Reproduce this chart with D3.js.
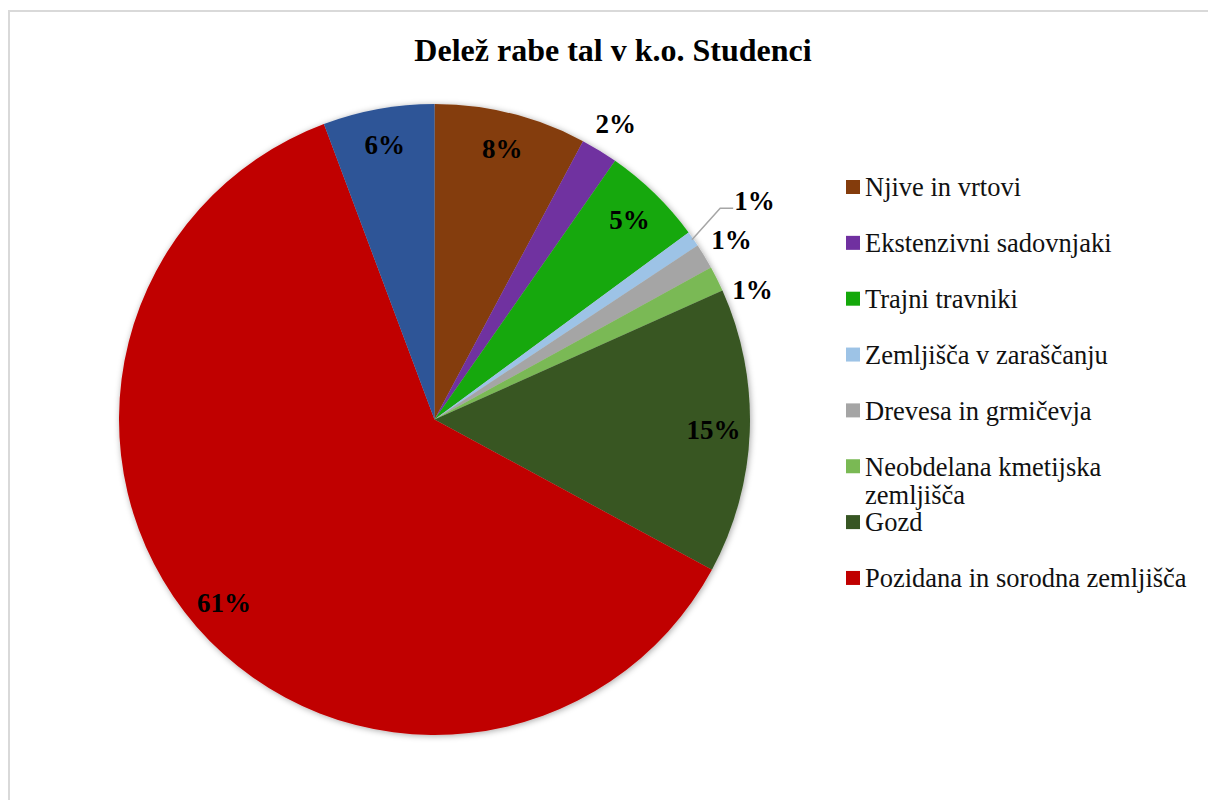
<!DOCTYPE html>
<html>
<head>
<meta charset="utf-8">
<script src="https://cdn.jsdelivr.net/npm/d3@7"></script>
<style>
  body { margin: 0; background: #fff; }
</style>
</head>
<body>
<div id="viz"></div>
<script>
// land use shares (percent), clockwise from 12 o'clock
var categories = ['Njive in vrtovi', 'Ekstenzivni sadovnjaki', 'Trajni travniki',
  'Zemljišča v zaraščanju', 'Drevesa in grmičevja', 'Neobdelana kmetijska zemljišča',
  'Gozd', 'Pozidana in sorodna zemljišča', 'Vode']
var values = [7.8, 1.9, 5.2, 0.8, 1.3, 1.3, 14.6, 61.4, 5.7]
var colors = ['#843C0C', '#7030A0', '#14A80A', '#9DC3E6', '#A5A5A5', '#7AB954',
  '#375623', '#C00000', '#2F5597']
var legendCount = 8   // only the first eight entries fit in the legend
var title = 'Delež rabe tal v k.o. Studenci'

var width = 1208,
    height = 800,
    cx = 434.5,
    cy = 419.5,
    radius = 315.5,
    serif = '"Liberation Serif", "Times New Roman", serif',
    formatPct = d3.format('.0%')

var svg = d3.select('#viz').append('svg')
    .attr('width', width)
    .attr('height', height)
    .style('font-family', serif)

// chart area border
svg.append('rect')
    .attr('x', 9).attr('y', 11)
    .attr('width', width + 20).attr('height', height + 20)
    .attr('fill', '#fff')
    .attr('stroke', '#d9d9d9')
    .attr('stroke-width', 2)

var defs = svg.append('defs')
defs.append('filter')
    .attr('id', 'shadow')
    .attr('x', '-10%').attr('y', '-10%').attr('width', '120%').attr('height', '120%')
  .append('feDropShadow')
    .attr('dx', 1).attr('dy', 1)
    .attr('stdDeviation', 3)
    .attr('flood-color', '#000')
    .attr('flood-opacity', 0.35)

svg.append('text')
    .attr('x', 613)
    .attr('y', 61)
    .attr('text-anchor', 'middle')
    .style('font-family', serif)
    .style('font-size', '32px')
    .style('font-weight', 'bold')
    .text(title)

var total = d3.sum(values)
var pie = d3.pie().sort(null).value(function(d) { return d })
var arcs = pie(values)

var arc = d3.arc().innerRadius(0).outerRadius(radius)

var g = svg.append('g')
    .attr('transform', 'translate(' + cx + ',' + cy + ')')

g.append('g')
    .attr('filter', 'url(#shadow)')
  .selectAll('path').data(arcs)
  .enter().append('path')
    .attr('d', arc)
    .attr('fill', function(d, i) { return colors[i] })

// label positions: inside for big slices, outside for small ones
var inArc = d3.arc().innerRadius(radius * 0.885).outerRadius(radius * 0.885)
var outR = radius * 1.1
var leaderIdx = 3

var positions = arcs.map(function(d, i) {
  if (i === leaderIdx) {
    var p = d3.arc().innerRadius(radius * 1.17).outerRadius(radius * 1.17).centroid(d)
    return [p[0] - 3, p[1] - 8]
  }
  if (d.data / total < 0.03) return d3.arc().innerRadius(outR).outerRadius(outR).centroid(d)
  return inArc.centroid(d)
})

// push overlapping outside labels downwards along the circle
var prev = null
arcs.forEach(function(d, i) {
  if (i === leaderIdx || d.data / total >= 0.03) return
  var p = positions[i]
  if (prev && p[1] - prev[1] < 50) {
    p[1] = prev[1] + 50
    p[0] = Math.sqrt(outR * outR - p[1] * p[1]) - 4
  }
  prev = p
})

// leader line for the thin slice
var ld = arcs[leaderIdx]
var lStart = arc.centroid(ld).map(function(v) { return v * 2 * 0.995 })
var lp = positions[leaderIdx]
g.append('polyline')
    .attr('points', [lStart, [lp[0] - 14, lp[1] + 8], [lp[0] - 1, lp[1] + 8]].join(' '))
    .attr('fill', 'none')
    .attr('stroke', '#a6a6a6')
    .attr('stroke-width', 1.5)

g.selectAll('text.lbl').data(arcs)
  .enter().append('text')
    .attr('class', 'lbl')
    .attr('transform', function(d, i) { return 'translate(' + positions[i] + ')' })
    .attr('text-anchor', function(d, i) { return i === leaderIdx ? 'start' : 'middle' })
    .attr('dy', '0.35em')
    .style('font-family', serif)
    .style('font-size', '27px')
    .style('font-weight', 'bold')
    .text(function(d) { return formatPct(d.data / total) })

// legend
var legend = svg.append('g')
    .attr('transform', 'translate(846,187)')

var item = legend.selectAll('g').data(categories.slice(0, legendCount))
  .enter().append('g')
    .attr('transform', function(d, i) { return 'translate(0,' + (i * 55.85) + ')' })

item.append('rect')
    .attr('x', 0).attr('y', -7)
    .attr('width', 14).attr('height', 14)
    .attr('fill', function(d, i) { return colors[i] })

item.append('text')
    .attr('x', 19)
    .attr('dy', '0.35em')
    .style('font-family', serif)
    .style('font-size', '26.5px')
    .style('fill', '#111')
    .each(function(d) {
      // wrap to the legend width
      var el = d3.select(this), words = d.split(' '), line = []
      var tspan = el.append('tspan').attr('x', 19)
      words.forEach(function(w) {
        line.push(w)
        tspan.text(line.join(' '))
        if (tspan.node().getComputedTextLength() > 335 && line.length > 1) {
          line.pop()
          tspan.text(line.join(' '))
          line = [w]
          tspan = el.append('tspan').attr('x', 19).attr('dy', '28px').text(w)
        }
      })
    })
</script>
</body>
</html>
